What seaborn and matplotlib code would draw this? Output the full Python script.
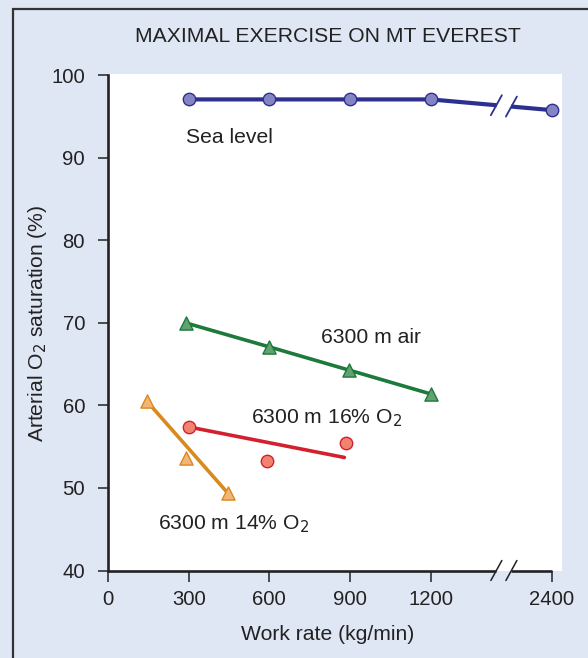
import matplotlib
matplotlib.use("Agg")
import matplotlib.pyplot as plt
from matplotlib.patches import Rectangle
import numpy as np
import pandas as pd
import seaborn as sns

# ---- data ----
sea_x = [300, 600, 900, 1200, 2400]
sea_y = [97.1, 97.1, 97.1, 97.1, 95.8]

air_x = [290, 600, 895, 1200]
air_y = [70.0, 67.1, 64.3, 61.4]

o16_x = [300, 590, 885]
o16_y = [57.4, 53.3, 55.5]
o16_line_x = [300, 879]
o16_line_y = [57.4, 53.7]

o14_x = [145, 290, 445]
o14_y = [60.5, 53.6, 49.4]
o14_line_x = [145, 445]
o14_line_y = [60.5, 49.4]

xticks = [0, 300, 600, 900, 1200, 2400]
yticks = [40, 50, 60, 70, 80, 90, 100]

# ---- style ----
sns.set_theme(style="white")
plt.rcParams['font.family'] = ['Liberation Sans', 'DejaVu Sans']
FS = 15.2
TFS = 14.6
BG = '#dfe7f4'
TXT = '#222222'

NAVY = '#2c3090'; NAVY_F = '#8584c3'
GREEN = '#1c7a3a'; GREEN_F = '#62a271'
RED = '#d3202e'; RED_F = '#f0826f'
ORANGE = '#d98a1e'; ORANGE_F = '#f3b577'

W, H = 588, 658
fig = plt.figure(figsize=(W / 100, H / 100), dpi=100, facecolor=BG)
ax = fig.add_axes([108 / W, 1 - 570.5 / H, (561.7 - 108) / W, (570.5 - 74) / H])
ax.set_facecolor('white')

# broken x scale: 1200..2400 compressed
def fwd(x):
    x = np.asarray(x, dtype=float)
    return np.where(x <= 1200, x, 1200 + (x - 1200) * 0.375)

def inv(p):
    p = np.asarray(p, dtype=float)
    return np.where(p <= 1200, p, 1200 + (p - 1200) / 0.375)

ax.set_xscale('function', functions=(fwd, inv))
ax.set_xlim(0, float(inv(1687)))
ax.set_ylim(40, 100.18)

# lines
sns.lineplot(x=sea_x, y=sea_y, ax=ax, color=NAVY, lw=3.0, sort=False, zorder=3)
sns.lineplot(x=air_x, y=air_y, ax=ax, color=GREEN, lw=2.6, sort=False, zorder=3)
sns.lineplot(x=o16_line_x, y=o16_line_y, ax=ax, color=RED, lw=2.6, sort=False, zorder=3)
sns.lineplot(x=o14_line_x, y=o14_line_y, ax=ax, color=ORANGE, lw=2.6, sort=False, zorder=3)

# markers
sns.scatterplot(x=sea_x, y=sea_y, ax=ax, color=NAVY_F, edgecolor=NAVY, linewidth=1.0,
                s=80, marker='o', zorder=5, clip_on=False)
sns.scatterplot(x=air_x, y=air_y, ax=ax, color=GREEN_F, edgecolor=GREEN, linewidth=1.0,
                s=90, marker='^', zorder=5)
sns.scatterplot(x=o16_x, y=o16_y, ax=ax, color=RED_F, edgecolor=RED, linewidth=1.0,
                s=80, marker='o', zorder=5)
sns.scatterplot(x=o14_x, y=o14_y, ax=ax, color=ORANGE_F, edgecolor=ORANGE, linewidth=1.0,
                s=90, marker='^', zorder=5)

# break marks
b1, b2 = 1444, 1500   # positions in scaled space
px_x = 0.2689         # px per scaled unit
px_y = 8.25           # px per y unit
dx = 5.5 / px_x
dy = 10.0 / px_y

# gap in sea-level line
sea_slope = (sea_y[4] - sea_y[3]) / (1650 - 1200)
def sea_at(p):
    return sea_y[3] + (p - 1200) * sea_slope
ax.plot(inv([b1 + 1, b2 - 1]), [sea_at(b1 + 1), sea_at(b2 - 1)], color='white', lw=4.5,
        zorder=4, solid_capstyle='butt')
for b in (b1, b2):
    yc = sea_at(b)
    ax.plot(inv([b - dx, b + dx]), [yc - dy, yc + dy], color=NAVY, lw=1.3, zorder=6)

# axis lines (bottom with gap)
for s in ('top', 'right', 'bottom'):
    ax.spines[s].set_visible(False)
ax.spines['left'].set_linewidth(1.9)
ax.spines['left'].set_color('#222222')
ax.spines['left'].set_bounds(40, 100)
ax.plot(inv([0, b1]), [40, 40], color='#222222', lw=1.9, clip_on=False, zorder=6,
        solid_capstyle='butt')
ax.plot(inv([b2, 1650]), [40, 40], color='#222222', lw=1.9, clip_on=False, zorder=6,
        solid_capstyle='butt')
for b in (b1, b2):
    ax.plot(inv([b - dx, b + dx]), [40 - dy, 40 + dy], color='#222222', lw=1.1,
            clip_on=False, zorder=6)

# ticks
ax.set_xticks(xticks)
ax.set_xticklabels([str(t) for t in xticks])
ax.set_yticks(yticks)
ax.set_yticklabels([str(t) for t in yticks])
ax.tick_params(axis='x', direction='out', length=8, width=1.1, color='#222222',
               pad=6, labelsize=TFS, labelcolor=TXT, bottom=True)
ax.tick_params(axis='y', direction='out', length=7.5, width=1.1, color='#222222',
               pad=9, labelsize=TFS, labelcolor=TXT, left=True)

# series labels
ax.text(289, 91.8, 'Sea level', fontsize=FS, color=TXT, ha='left', va='baseline')
ax.text(791, 67.6, '6300 m air', fontsize=FS, color=TXT, ha='left', va='baseline')
ax.text(531, 57.85, '6300 m 16% O$_2$', fontsize=FS, color=TXT, ha='left', va='baseline')
ax.text(186, 45.0, '6300 m 14% O$_2$', fontsize=FS, color=TXT, ha='left', va='baseline')

# titles and axis labels
fig.text(328 / W, 1 - 36 / H, 'MAXIMAL EXERCISE ON MT EVEREST', fontsize=FS, color=TXT,
         ha='center', va='center')
fig.text(328 / W, 1 - 634 / H, 'Work rate (kg/min)', fontsize=FS, color=TXT,
         ha='center', va='center')
fig.text(38 / W, 1 - 323 / H, 'Arterial O$_2$ saturation (%)', fontsize=FS, color=TXT,
         ha='center', va='center', rotation=90)

# figure border
fig.patches.append(Rectangle((12.5 / W, -0.05), 1.2, 1 - 9.5 / H + 0.05,
                             transform=fig.transFigure, fill=False,
                             edgecolor='#333333', lw=1.6, zorder=10))

fig.savefig('out.png', dpi=100, facecolor=BG)
